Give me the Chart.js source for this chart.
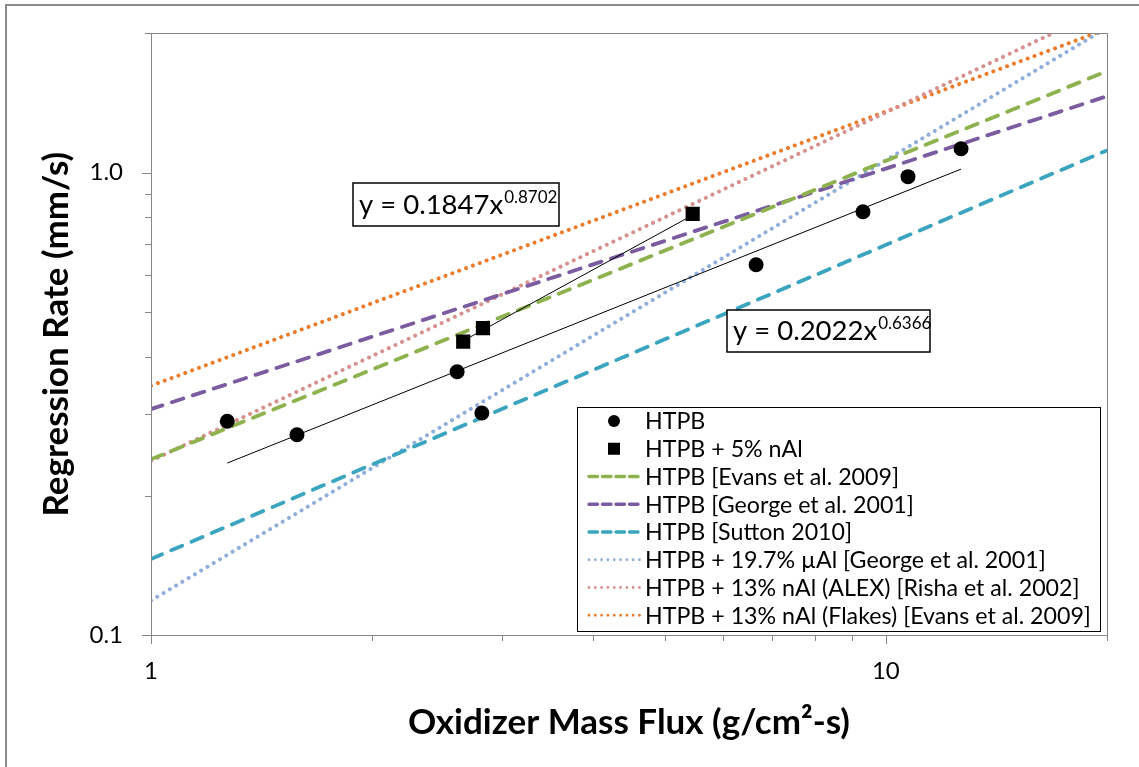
<!DOCTYPE html>
<html>
<head>
<meta charset="utf-8">
<script src="https://cdn.jsdelivr.net/npm/chart.js@4.4.1/dist/chart.umd.min.js"></script>
<style>
  html, body { margin: 0; padding: 0; background: #ffffff; }
  #wrap { width: 1139px; height: 767px; position: relative; }
  canvas { display: block; }
</style>
</head>
<body>
<div id="wrap"><canvas id="chart" width="1139" height="767"></canvas></div>
<script>
// Measured regression rate vs. oxidizer mass flux, plain HTPB
const htpbFlux = [1.27, 1.58, 2.61, 2.82, 6.66, 9.31, 10.72, 12.66];
const htpbRate = [0.290, 0.271, 0.371, 0.302, 0.632, 0.823, 0.980, 1.126];

// Measured regression rate, HTPB + 5% nAl
const nalFlux = [2.66, 2.83, 5.46];
const nalRate = [0.431, 0.461, 0.814];

// Power-law fits y = a·x^n printed in the equation boxes
const htpbFitCoef = 0.2022, htpbFitExp = 0.6366;
const nalFitCoef = 0.1847, nalFitExp = 0.8702;

// Literature correlations, rate (mm/s) at G = 1 and G = 20 g/cm²-s
const refLabels = [
  'HTPB [Evans et al. 2009]',
  'HTPB [George et al. 2001]',
  'HTPB [Sutton 2010]',
  'HTPB + 19.7% µAl [George et al. 2001]',
  'HTPB + 13% nAl (ALEX) [Risha et al. 2002]',
  'HTPB + 13% nAl (Flakes) [Evans et al. 2009]'
];
const refFluxEnds = [1, 20];
const refRateAtStart = [0.240, 0.308, 0.146, 0.1187, 0.238, 0.346];
const refRateAtEnd = [1.657, 1.463, 1.117, 2.057, 2.275, 2.045];

// Axis tick values
const xTickValues = [1, 2, 3, 4, 5, 6, 7, 8, 9, 10, 20];
const xTickLabels = { 1: '1', 10: '10' };
const yTickValues = [0.1, 0.2, 0.3, 0.4, 0.5, 0.6, 0.7, 0.8, 0.9, 1, 2];
const yTickLabels = { 0.1: '0.1', 1: '1.0' };

const FONT = 'Lato, "Open Sans", sans-serif';
const AXIS_GREY = '#868686';

const refColors = ['#8DB24E', '#7B5CA0', '#3BA5C0', '#8FAEDA', '#D6918F', '#EC7B2A'];
const refDotted = [false, false, false, true, true, true];

const toPoints = (xs, ys) => xs.map((x, i) => ({ x: x, y: ys[i] }));
const fitLine = (xs, a, n) => {
  const lo = Math.min(...xs), hi = Math.max(...xs);
  return [{ x: lo, y: a * Math.pow(lo, n) }, { x: hi, y: a * Math.pow(hi, n) }];
};

const datasets = [
  {
    label: 'HTPB', data: toPoints(htpbFlux, htpbRate), showLine: false,
    pointStyle: 'circle', pointRadius: 7.5, backgroundColor: '#000', borderColor: '#000',
    borderWidth: 0, inLegend: true, marker: 'circle'
  },
  {
    label: 'HTPB + 5% nAl', data: toPoints(nalFlux, nalRate), showLine: false,
    pointStyle: 'rect', pointRadius: 10, backgroundColor: '#000', borderColor: '#000',
    borderWidth: 0, inLegend: true, marker: 'square'
  },
  {
    label: 'HTPB fit', data: fitLine(htpbFlux, htpbFitCoef, htpbFitExp), showLine: true,
    borderColor: '#000', borderWidth: 1, pointRadius: 0, inLegend: false
  },
  {
    label: 'nAl fit', data: fitLine(nalFlux, nalFitCoef, nalFitExp), showLine: true,
    borderColor: '#000', borderWidth: 1, pointRadius: 0, inLegend: false
  }
];

refLabels.forEach((name, i) => {
  datasets.push({
    label: name,
    data: [{ x: refFluxEnds[0], y: refRateAtStart[i] }, { x: refFluxEnds[1], y: refRateAtEnd[i] }],
    showLine: true,
    borderColor: refColors[i],
    borderWidth: refDotted[i] ? 4 : 3.8,
    borderDash: refDotted[i] ? [0.01, 7.3] : [12, 10],
    borderCapStyle: 'round',
    pointRadius: 0,
    inLegend: true,
    marker: refDotted[i] ? 'dot' : 'dash'
  });
});

// Tick marks on the outside of the axes: long at decades, short in between
const tickMarks = {
  id: 'tickMarks',
  afterDraw(chart) {
    const { ctx, chartArea: a, scales } = chart;
    ctx.save();
    ctx.strokeStyle = AXIS_GREY;
    ctx.lineWidth = 1;
    // plot frame
    ctx.strokeRect(Math.round(a.left) + 0.5, Math.round(a.top) + 0.5,
      Math.round(a.right - a.left), Math.round(a.bottom - a.top));
    ctx.beginPath();
    xTickValues.forEach(v => {
      const px = Math.round(scales.x.getPixelForValue(v)) + 0.5;
      const len = (v === 1 || v === 10) ? 9 : 6;
      ctx.moveTo(px, a.bottom); ctx.lineTo(px, a.bottom + len);
    });
    yTickValues.forEach(v => {
      const py = Math.round(scales.y.getPixelForValue(v)) + 0.5;
      const len = (v === 0.1 || v === 1) ? 9 : 6;
      ctx.moveTo(a.left, py); ctx.lineTo(a.left - len, py);
    });
    ctx.stroke();
    ctx.restore();
  }
};

// Equation boxes for the two power-law fits
function drawEquation(ctx, left, top, width, height, coef, exp) {
  ctx.save();
  ctx.fillStyle = '#fff';
  ctx.fillRect(left, top, width, height);
  ctx.strokeStyle = '#000';
  ctx.lineWidth = 1.5;
  ctx.strokeRect(left, top, width, height);
  ctx.fillStyle = '#000';
  ctx.textBaseline = 'alphabetic';
  ctx.font = '27.5px ' + FONT;
  const main = 'y = ' + coef.toFixed(4) + 'x';
  const baseY = top + height - 12;
  ctx.fillText(main, left + 6, baseY);
  const w = ctx.measureText(main).width;
  ctx.font = '17px ' + FONT;
  ctx.fillText(exp.toFixed(4), left + 6 + w + 1, baseY - 11);
  ctx.restore();
}

const annotations = {
  id: 'annotations',
  afterDatasetsDraw(chart) {
    const ctx = chart.ctx;
    drawEquation(ctx, 353, 183, 206, 43, nalFitCoef, nalFitExp);
    drawEquation(ctx, 727, 310, 203, 42, htpbFitCoef, htpbFitExp);
  }
};

// Boxed legend in the lower right of the plot
const boxLegend = {
  id: 'boxLegend',
  afterDraw(chart) {
    const ctx = chart.ctx;
    const a = chart.chartArea;
    const box = { left: 577, top: 407, right: a.right - 7, bottom: a.bottom - 4 };
    const items = chart.data.datasets.filter(d => d.inLegend);
    ctx.save();
    ctx.fillStyle = '#fff';
    ctx.fillRect(box.left, box.top, box.right - box.left, box.bottom - box.top);
    ctx.strokeStyle = '#000';
    ctx.lineWidth = 1;
    ctx.strokeRect(box.left + 0.5, box.top + 0.5, box.right - box.left, box.bottom - box.top);
    const step = (box.bottom - box.top - 2) / items.length;
    items.forEach((d, i) => {
      const cy = box.top + 14 + i * step;
      const sx0 = box.left + 11, sx1 = box.left + 63, sc = (sx0 + sx1) / 2;
      ctx.fillStyle = '#000';
      if (d.marker === 'circle') {
        ctx.beginPath(); ctx.arc(sc, cy, 6, 0, Math.PI * 2); ctx.fill();
      } else if (d.marker === 'square') {
        ctx.fillRect(sc - 6, cy - 6, 12, 12);
      } else {
        ctx.beginPath();
        ctx.strokeStyle = d.borderColor;
        ctx.lineCap = 'round';
        ctx.lineWidth = d.marker === 'dot' ? 2.8 : 3.4;
        ctx.setLineDash(d.marker === 'dot' ? [0.01, 6.3] : [8.5, 5]);
        ctx.moveTo(sx0 + 1, cy); ctx.lineTo(sx1, cy);
        ctx.stroke();
        ctx.setLineDash([]);
      }
      ctx.fillStyle = '#000';
      ctx.font = '23.2px ' + FONT;
      ctx.textBaseline = 'middle';
      ctx.fillText(d.label, box.left + 68, cy + 1);
    });
    ctx.restore();
  }
};

// Outer chart frame
const outerFrame = {
  id: 'outerFrame',
  beforeDraw(chart) {
    const ctx = chart.ctx;
    ctx.save();
    ctx.fillStyle = '#fff';
    ctx.fillRect(0, 0, chart.width, chart.height);
    ctx.strokeStyle = '#8a8a8a';
    ctx.lineWidth = 2;
    ctx.beginPath();
    ctx.moveTo(6, chart.height + 2); ctx.lineTo(6, 5); ctx.lineTo(chart.width + 2, 5);
    ctx.stroke();
    ctx.restore();
  }
};

new Chart(document.getElementById('chart'), {
  type: 'scatter',
  data: { datasets: datasets },
  plugins: [outerFrame, tickMarks, annotations, boxLegend],
  options: {
    responsive: false,
    animation: false,
    devicePixelRatio: 1,
    layout: { padding: { left: 0, top: 33, right: 32, bottom: 0 } },
    plugins: { legend: { display: false }, tooltip: { enabled: false } },
    scales: {
      x: {
        type: 'logarithmic', position: 'bottom', min: 1, max: 20,
        afterBuildTicks: s => { s.ticks = xTickValues.map(v => ({ value: v })); },
        afterFit: s => { s.height = 132; },
        ticks: {
          autoSkip: false, maxRotation: 0, color: '#000', padding: 13,
          font: { family: FONT, size: 24 },
          callback: v => xTickLabels[v] || ''
        },
        grid: { display: true, drawOnChartArea: false, drawTicks: true, tickLength: 9, tickColor: 'rgba(0,0,0,0)' },
        border: { display: false },
        title: {
          display: true, text: 'Oxidizer Mass Flux (g/cm²-s)', color: '#000',
          font: { family: FONT, size: 35, weight: 'bold' }, padding: { top: 0, bottom: 23 }
        }
      },
      y: {
        type: 'logarithmic', position: 'left', min: 0.1, max: 2,
        afterBuildTicks: s => { s.ticks = yTickValues.map(v => ({ value: v })); },
        afterFit: s => { s.width = 151; },
        ticks: {
          autoSkip: false, color: '#000', padding: 19,
          font: { family: FONT, size: 24 },
          callback: v => yTickLabels[v] || ''
        },
        grid: { display: true, drawOnChartArea: false, drawTicks: true, tickLength: 9, tickColor: 'rgba(0,0,0,0)' },
        border: { display: false },
        title: {
          display: true, text: 'Regression Rate (mm/s)', color: '#000',
          font: { family: FONT, size: 35, weight: 'bold' }, padding: { top: 36, bottom: 0 }
        }
      }
    }
  }
});
</script>
</body>
</html>
